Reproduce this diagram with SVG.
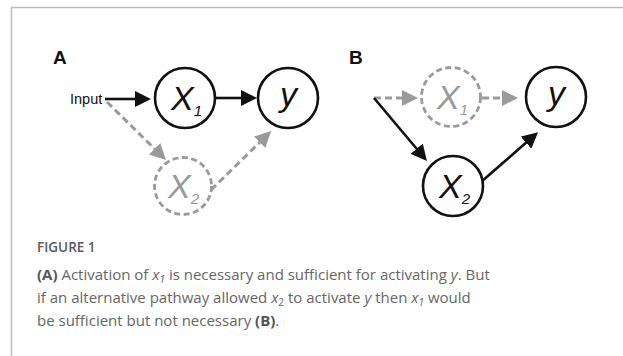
<svg xmlns="http://www.w3.org/2000/svg" width="623" height="356" viewBox="0 0 623 356">
  <style>
    .frame { stroke: #bdbdbd; stroke-width: 1.5; fill: none; }
    .node { fill: #fff; stroke: #111; stroke-width: 2.6; }
    .node-off { fill: #fff; stroke: #9a9a9a; stroke-width: 2.8; stroke-dasharray: 6 3.5; }
    .edge { stroke: #111; stroke-width: 2.6; fill: none; }
    .edge-off { stroke: #9a9a9a; stroke-width: 3; fill: none; stroke-dasharray: 7 4; }
    .var { font-family: "Liberation Sans", Arial, sans-serif; font-style: italic; font-size: 34px; fill: #111; }
    .var-off { fill: #9a9a9a; }
    .sub { font-size: 15px; }
    .panel { font-family: "Liberation Sans", Arial, sans-serif; font-weight: bold; font-size: 19px; fill: #111; }
    .label { font-family: "Liberation Sans", Arial, sans-serif; font-size: 14.5px; fill: #111; }
    .cap { font-family: "Open Sans", "Noto Sans", sans-serif; font-size: 15px; fill: #666; }
    .cap-title { font-family: "Open Sans", "Noto Sans", sans-serif; font-size: 13.5px; font-weight: 600; fill: #5a5a5a; }
    .b { font-weight: bold; fill: #555; }
    .i { font-style: italic; }
  </style>
  <defs>
    <marker id="head" viewBox="0 0 16 16" refX="1" refY="8" markerWidth="16" markerHeight="16" markerUnits="userSpaceOnUse" orient="auto">
      <path d="M0,0 L16,8 L0,16 z" fill="#111"/>
    </marker>
    <marker id="head-off" viewBox="0 0 16 16" refX="1" refY="8" markerWidth="16" markerHeight="16" markerUnits="userSpaceOnUse" orient="auto">
      <path d="M0,0 L16,8 L0,16 z" fill="#9a9a9a"/>
    </marker>
  </defs>

  <rect width="623" height="356" fill="#fff"/>
  <!-- figure box: top and left rules -->
  <path class="frame" d="M11.5,356 V7.5 H623"/>

  <!-- panel letters -->
  <text class="panel" x="53" y="64">A</text>
  <text class="panel" x="349" y="64">B</text>

  <!-- connectors -->
  <g id="connectors">
    <!-- panel A -->
    <line class="edge" x1="105" y1="99" x2="136" y2="99" marker-end="url(#head)"/>
    <line class="edge" x1="215" y1="98" x2="242" y2="98" marker-end="url(#head)"/>
    <line class="edge-off" x1="107" y1="102" x2="155.3" y2="149.5" marker-end="url(#head-off)"/>
    <line class="edge-off" x1="211" y1="190" x2="260.4" y2="141.6" marker-end="url(#head-off)"/>
    <!-- panel B -->
    <line class="edge-off" x1="374" y1="98" x2="403" y2="98" marker-end="url(#head-off)"/>
    <line class="edge-off" x1="482" y1="98" x2="503" y2="98" marker-end="url(#head-off)"/>
    <line class="edge" x1="374" y1="98" x2="417.3" y2="149.5" marker-end="url(#head)"/>
    <line class="edge" x1="481" y1="182" x2="526.8" y2="142" marker-end="url(#head)"/>
  </g>

  <!-- panel A nodes -->
  <g id="a-input">
    <text class="label" x="70" y="104">Input</text>
  </g>
  <g id="a-x1">
    <circle class="node" cx="185" cy="98" r="30"/>
    <text class="var" x="171" y="110">X<tspan class="sub" dy="6">1</tspan></text>
  </g>
  <g id="a-y">
    <circle class="node" cx="288" cy="98" r="30"/>
    <text class="var" x="280" y="106">y</text>
  </g>
  <g id="a-x2">
    <circle class="node-off" cx="183" cy="186" r="28.5"/>
    <text class="var var-off" x="168" y="198">X<tspan class="sub" dy="6">2</tspan></text>
  </g>

  <!-- panel B nodes -->
  <g id="b-x1">
    <circle class="node-off" cx="451" cy="97" r="29.5"/>
    <text class="var var-off" x="437" y="109">X<tspan class="sub" dy="6">1</tspan></text>
  </g>
  <g id="b-y">
    <circle class="node" cx="556" cy="97" r="30"/>
    <text class="var" x="548" y="105">y</text>
  </g>
  <g id="b-x2">
    <circle class="node" cx="453" cy="186" r="30"/>
    <text class="var" x="439" y="198">X<tspan class="sub" dy="6">2</tspan></text>
  </g>

  <!-- caption -->
  <text class="cap-title" x="37" y="252">FIGURE 1</text>
  <text class="cap" x="37" y="280"><tspan class="b">(A)</tspan> Activation of <tspan class="i">x</tspan><tspan class="i" font-size="10" dy="3">1</tspan><tspan dy="-3"> is necessary and sufficient for activating </tspan><tspan class="i">y</tspan>. But</text>
  <text class="cap" x="37" y="303">if an alternative pathway allowed <tspan class="i">x</tspan><tspan font-size="10" dy="3">2</tspan><tspan dy="-3"> to activate </tspan><tspan class="i">y</tspan> then <tspan class="i">x</tspan><tspan class="i" font-size="10" dy="3">1</tspan><tspan dy="-3"> would</tspan></text>
  <text class="cap" x="37" y="326">be sufficient but not necessary <tspan class="b">(B)</tspan>.</text>
</svg>
